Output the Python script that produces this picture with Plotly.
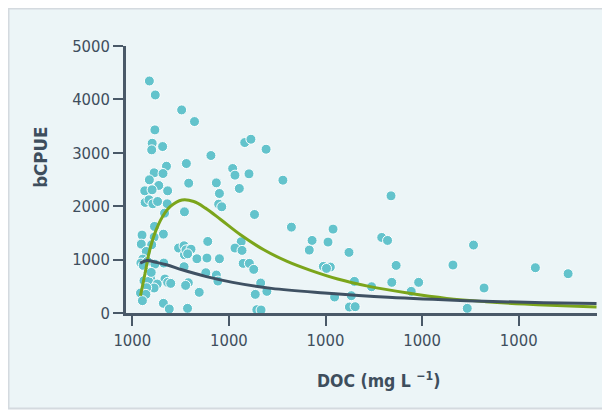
import plotly.graph_objects as go

# ---- data (x in axis tick units; ticks all labelled "1000" as in the source) ----
doc_x = [0.177, 0.238, 0.511, 0.644, 0.234, 0.206, 0.201, 0.314, 1.164, 1.228,
         1.385, 0.814, 0.560, 0.354, 1.039, 1.063, 1.208, 0.226, 0.318, 1.559,
         0.177, 0.584, 0.870, 0.274, 0.129, 0.205, 0.366, 1.108, 0.902, 2.678,
         0.133, 0.173, 0.213, 0.262, 0.362, 0.894, 0.926, 0.540, 0.334, 1.265,
         1.647, 2.078, 0.230, 0.101, 0.322, 0.226, 2.582, 2.642, 1.861, 2.026,
         0.781, 1.127, 0.093, 0.201, 3.532, 0.479, 0.536, 0.596, 1.063, 1.136,
         1.832, 2.243, 0.145, 0.540, 0.669, 0.773, 0.902, 0.109, 0.089, 0.157,
         0.326, 0.234, 0.113, 1.148, 1.212, 2.731, 3.319, 1.978, 2.050, 2.010,
         0.536, 1.257, 4.172, 4.511, 0.761, 0.870, 0.165, 0.189, 0.121, 0.169,
         0.338, 0.366, 0.398, 0.258, 0.226, 0.149, 0.580, 0.552, 0.886, 1.329,
         2.299, 2.686, 2.964, 2.477, 3.641, 1.393, 2.887, 0.693, 0.085, 0.141,
         1.273, 2.267, 2.094, 0.105, 0.322, 2.247, 2.307, 3.467, 0.383, 0.572,
         1.289, 1.333, 0.196, 0.556, 0.608, 0.573]
bcpue = [4345, 4083, 3803, 3585, 3429, 3179, 3055, 3117, 3192, 3254,
         3067, 2949, 2799, 2749, 2706, 2581, 2606, 2625, 2612, 2487,
         2494, 2431, 2437, 2388, 2288, 2307, 2288, 2332, 2238, 2194,
         2070, 2120, 2045, 2088, 2045, 2038, 1989, 1895, 1870, 1845,
         1608, 1571, 1621, 1459, 1477, 1421, 1415, 1359, 1359, 1328,
         1340, 1334, 1290, 1278, 1272, 1216, 1259, 1203, 1216, 1172,
         1178, 1135, 1153, 1091, 1016, 1029, 1016, 1010, 935, 966,
         935, 916, 891, 929, 929, 891, 898, 873, 860, 835,
         867, 817, 848, 736, 754, 711, 761, 648, 605, 592,
         636, 574, 555, 542, 468, 474, 567, 517, 598, 561,
         592, 574, 574, 492, 468, 405, 405, 387, 374, 349,
         349, 324, 299, 231, 181, 112, 118, 87, 75, 87,
         62, 56, 760, 1182, 1195, 1108]

green_x = [0.085, 0.133, 0.173, 0.234, 0.314, 0.395, 0.515, 0.636, 0.757, 0.918,
           1.120, 1.361, 1.603, 1.845, 2.126, 2.449, 2.851, 3.254, 3.657, 4.060,
           4.462, 4.805]
green_y = [324, 748, 1122, 1496, 1808, 1995, 2115, 2088, 1964, 1746,
           1465, 1184, 966, 798, 636, 499, 374, 274, 212, 168,
           137, 112]

dark_x = [0.081, 0.153, 0.234, 0.354, 0.515, 0.757, 1.039, 1.440, 1.990, 2.650,
          3.455, 4.260, 4.805]
dark_y = [935, 985, 954, 904, 810, 686, 574, 461, 374, 293,
          231, 193, 178]

tick_vals = [0, 1, 2, 3, 4]
tick_text = ["1000", "1000", "1000", "1000", "1000"]
y_ticks = [0, 1000, 2000, 3000, 4000, 5000]

FONT = "DejaVu Sans Condensed, DejaVu Sans, sans-serif"
AX = "#4a5968"
TXT = "#3e4e5d"

fig = go.Figure()
fig.add_trace(go.Scatter(
    x=doc_x, y=bcpue, mode="markers",
    marker=dict(size=10, color="#63c3cc", line=dict(color="white", width=1)),
    hoverinfo="skip", showlegend=False))
fig.add_trace(go.Scatter(
    x=green_x, y=green_y, mode="lines", line=dict(color="#7ba51b", width=3, shape="spline"),
    showlegend=False))
fig.add_trace(go.Scatter(
    x=dark_x, y=dark_y, mode="lines", line=dict(color="#3f5163", width=3, shape="spline"),
    showlegend=False))

# figure coordinates (page shows the figure offset by the 8px body margin)
L, R, T, B = 118, 21, 38, 105.7
W, H = 610 - L - R, 411 - T - B

def px(xp):
    return (xp - L) / W

def py(yp):
    return (411 - B - yp) / H

fig.update_layout(
    width=610, height=411,
    margin=dict(l=L, r=R, t=T, b=B, pad=0),
    paper_bgcolor="white", plot_bgcolor="white",
    font=dict(family=FONT, color=TXT, size=16),
    xaxis=dict(range=[-0.065, 4.81], tickvals=tick_vals, ticktext=tick_text,
               showgrid=False, zeroline=False, showline=True, linecolor=AX, linewidth=2.5,
               ticks="outside", ticklen=10, tickwidth=2, tickcolor=AX,
               tickfont=dict(family=FONT, size=16.5, color=TXT)),
    yaxis=dict(range=[0, 5000], tickvals=y_ticks,
               showgrid=False, zeroline=False, showline=True, linecolor=AX, linewidth=2.5,
               ticks="outside", ticklen=10, tickwidth=2, tickcolor=AX,
               tickfont=dict(family=FONT, size=16.5, color=TXT)),
    shapes=[dict(type="rect", xref="paper", yref="paper",
                 x0=px(0.5), x1=px(640), y0=py(401), y1=py(0.5),
                 fillcolor="#ecf5f7", line=dict(color="#d4dadf", width=2), layer="below")],
    annotations=[
        dict(text="<b>DOC (mg L <sup>\u22121</sup>)</b>", xref="paper", yref="paper",
             x=px(370), y=py(372), xanchor="center", yanchor="middle", showarrow=False,
             font=dict(family=FONT, size=17.5, color=TXT)),
        dict(text="<b>bCPUE</b>", xref="paper", yref="paper", textangle=-90,
             x=px(33), y=py(150), xanchor="center", yanchor="middle", showarrow=False,
             font=dict(family=FONT, size=18.5, color=TXT)),
    ],
)

fig.write_html("out.html")
